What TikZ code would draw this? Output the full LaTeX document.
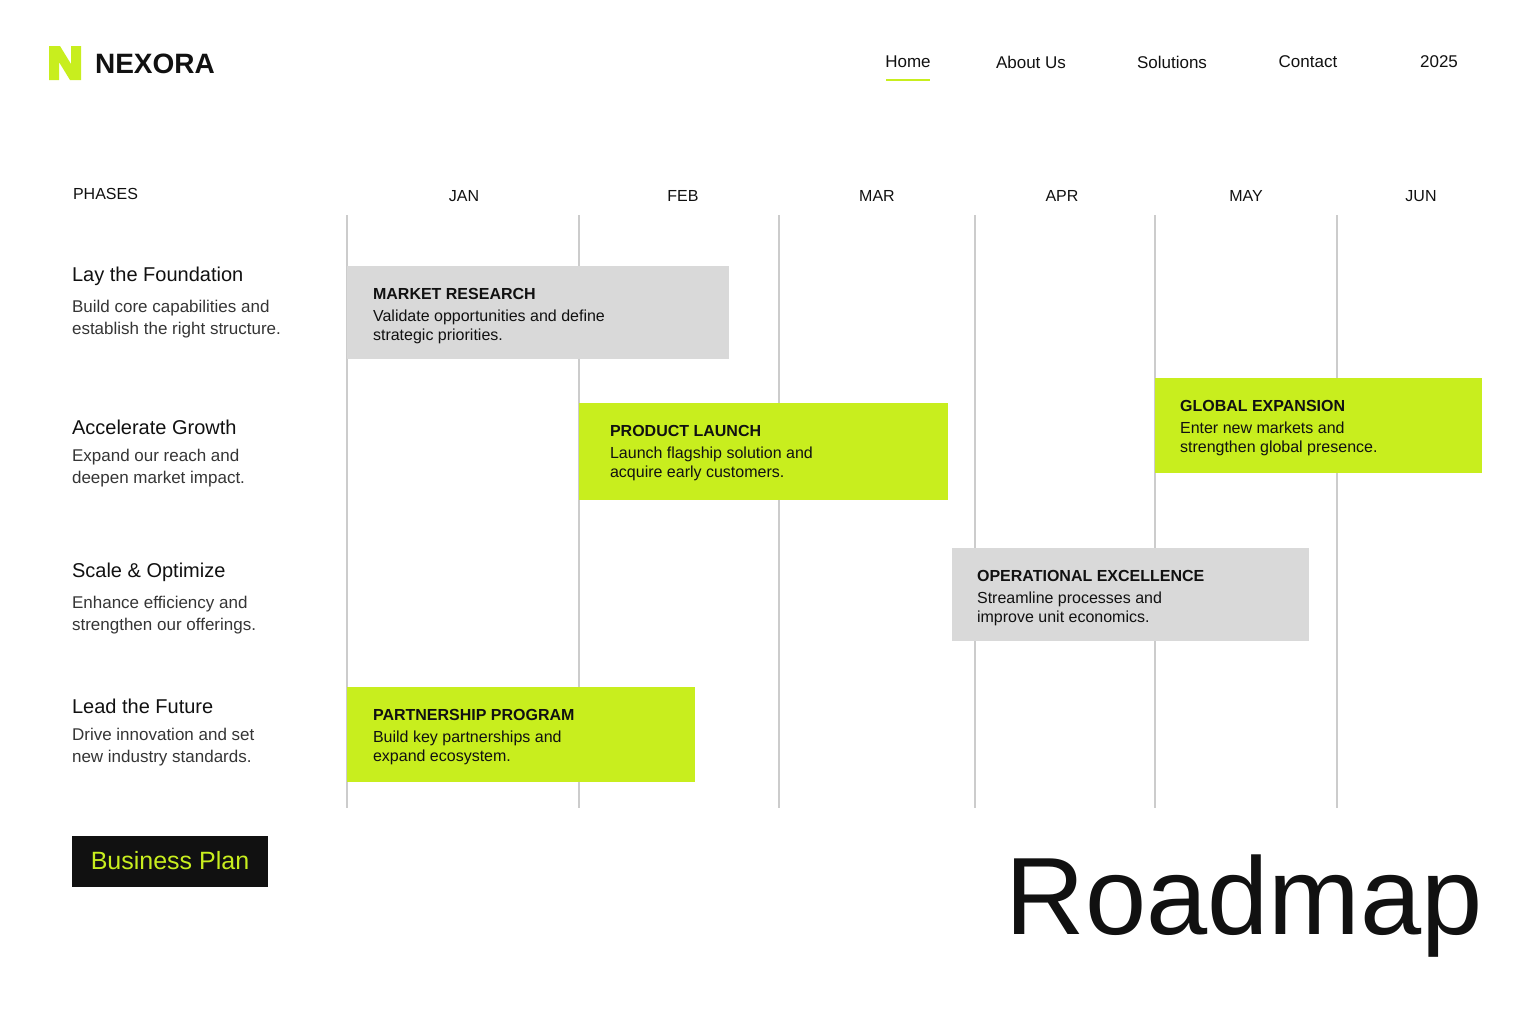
\documentclass[tikz,border=0pt]{standalone}
\usepackage{fontspec}
\setmainfont{Liberation Sans}
\usetikzlibrary{positioning}
\definecolor{lime}{HTML}{C8EE1E}
\definecolor{boxgray}{HTML}{D9D9D9}
\definecolor{gridgray}{HTML}{CCCCCC}
\definecolor{ink}{HTML}{111111}
\tikzset{
  navitem/.style={font=\fontsize{8.5}{10}\selectfont, text=ink},
  month/.style={font=\fontsize{8}{10}\selectfont, text=ink},
  phasetitle/.style={anchor=north west, font=\fontsize{10}{12}\selectfont, text=ink},
  phasetext/.style={anchor=north west, align=left, font=\fontsize{8.5}{11}\selectfont, text=ink!85},
  bartitle/.style={anchor=north west, font=\bfseries\fontsize{8}{10}\selectfont, text=ink},
  bartext/.style={anchor=north west, align=left, font=\fontsize{8}{9.8}\selectfont, text=ink},
  gridline/.style={draw=gridgray, line width=0.6pt},
}
\begin{document}
\begin{tikzpicture}[x=0.5pt,y=-0.5pt]
\useasboundingbox (0,0) rectangle (1536,1024);
% logo
\fill[lime] (49,46) -- (60,46) -- (71,64) -- (71,46) -- (81,46) -- (81,80) -- (70,80) -- (59,62) -- (59,80) -- (49,80) -- cycle;
\node[anchor=west, font=\bfseries\fontsize{14}{17}\selectfont, text=ink] (brand) at (88,64) {NEXORA};
% navigation
\node[navitem] (home) at (908,62) {Home};
\draw[lime, line width=1.2pt] (886,80) -- (930,80);
\node[navitem] (about) at (1031,62) {About Us};
\node[navitem] (solutions) at (1172,62) {Solutions};
\node[navitem] (contact) at (1308,62) {Contact};
\node[navitem] (year) at (1439,62) {2025};
% grid
\node[month, anchor=west] (phases) at (66,194) {PHASES};
\foreach \x in {347,579,779,975,1155,1337}
  \draw[gridline] (\x,215) -- (\x,808);
\foreach \x/\m in {464/JAN,683/FEB,877/MAR,1062/APR,1246/MAY,1421/JUN}
  \node[month] (m\m) at (\x,196) {\m};
% phases
\node[phasetitle] (p1) at (65,260) {Lay the Foundation};
\node[phasetext, below=0pt of p1.south west, anchor=north west] {Build core capabilities and\\establish the right structure.};
\node[phasetitle] (p2) at (65,413) {Accelerate Growth};
\node[phasetext, below=0pt of p2.south west, anchor=north west] {Expand our reach and\\deepen market impact.};
\node[phasetitle] (p3) at (65,556) {Scale \& Optimize};
\node[phasetext, below=0pt of p3.south west, anchor=north west] {Enhance efficiency and\\strengthen our offerings.};
\node[phasetitle] (p4) at (65,692) {Lead the Future};
\node[phasetext, below=0pt of p4.south west, anchor=north west] {Drive innovation and set\\new industry standards.};
% bars
\fill[boxgray] (347,266) rectangle (729,359);
\node[bartitle] (b1) at (366,281) {MARKET RESEARCH};
\node[bartext, below=-2pt of b1.south west, anchor=north west] {Validate opportunities and define\\strategic priorities.};
\fill[lime] (579,403) rectangle (948,500);
\node[bartitle] (b2) at (603,418) {PRODUCT LAUNCH};
\node[bartext, below=-2pt of b2.south west, anchor=north west] {Launch flagship solution and\\acquire early customers.};
\fill[lime] (1155,378) rectangle (1482,473);
\node[bartitle] (b3) at (1173,393) {GLOBAL EXPANSION};
\node[bartext, below=-2pt of b3.south west, anchor=north west] {Enter new markets and\\strengthen global presence.};
\fill[boxgray] (952,548) rectangle (1309,641);
\node[bartitle] (b4) at (970,563) {OPERATIONAL EXCELLENCE};
\node[bartext, below=-2pt of b4.south west, anchor=north west] {Streamline processes and\\improve unit economics.};
\fill[lime] (347,687) rectangle (695,782);
\node[bartitle] (b5) at (366,702) {PARTNERSHIP PROGRAM};
\node[bartext, below=-2pt of b5.south west, anchor=north west] {Build key partnerships and\\expand ecosystem.};
% footer
\node[fill=ink, text=lime, minimum width=98pt, minimum height=25.5pt, font=\fontsize{12.5}{14}\selectfont] (plan) at (170,861) {Business Plan};
\node[anchor=east, text=ink, font=\fontsize{55}{60}\selectfont] (roadmap) at (1490,906) {Roadmap};
\end{tikzpicture}
\end{document}
